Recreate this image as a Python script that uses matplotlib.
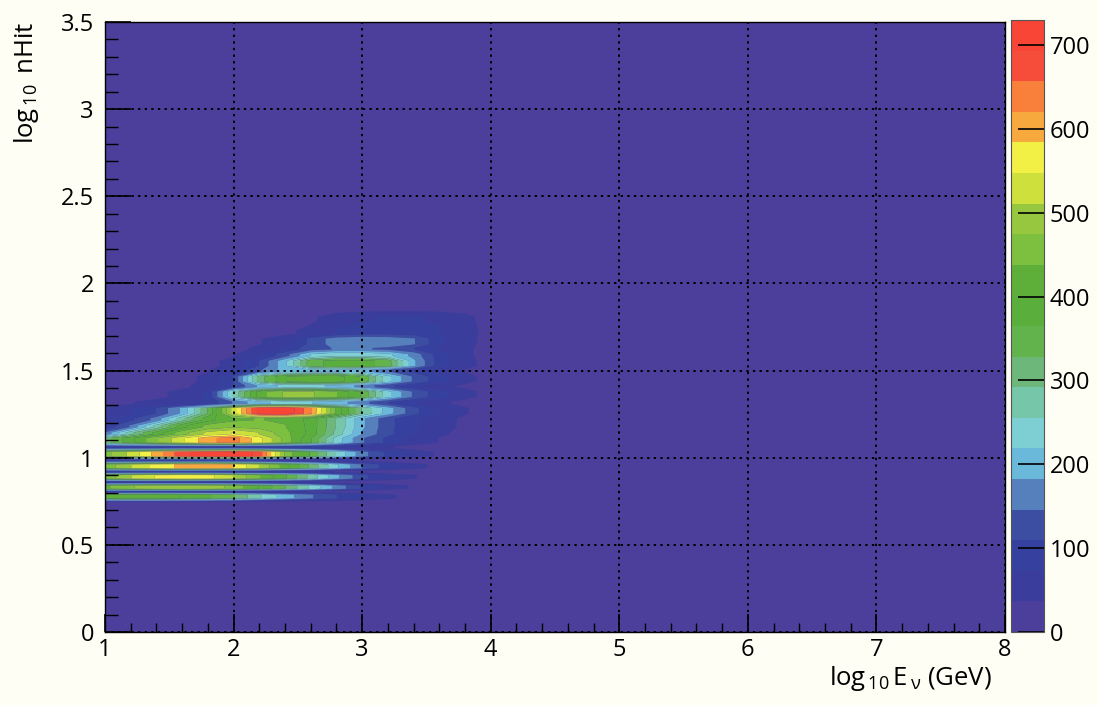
import numpy as np
import matplotlib
matplotlib.use("Agg")
import matplotlib.pyplot as plt
from matplotlib.ticker import MultipleLocator

FONT = "Open Sans"
plt.rcParams['font.family'] = [FONT, 'DejaVu Sans']
plt.rcParams['mathtext.fontset'] = 'custom'
plt.rcParams['mathtext.rm'] = FONT
plt.rcParams['mathtext.it'] = FONT + ':italic'
plt.rcParams['mathtext.default'] = 'rm'

# ---------------- data ----------------
x_centers = [1.0, 1.2, 1.4, 1.6, 1.8, 2.0, 2.2, 2.4, 2.6, 2.8, 3.0, 3.2, 3.4, 3.6, 3.8, 4.0, 4.2]

y_rows = [0.74, 0.78, 0.805, 0.83, 0.86, 0.89, 0.92, 0.95, 0.985, 1.02, 1.06,
          1.10, 1.14, 1.18, 1.22, 1.27, 1.315, 1.365, 1.41, 1.45, 1.50,
          1.54, 1.59, 1.625, 1.665, 1.72, 1.80, 1.88]

counts = [
    [0, 0, 0, 0, 0, 0, 0, 0, 0, 0, 0, 0, 0, 0, 0, 0, 0],                          # 0.74
    [400, 420, 420, 400, 370, 330, 260, 200, 150, 110, 75, 45, 20, 0, 0, 0, 0],   # 0.78
    [80, 80, 80, 75, 70, 65, 55, 45, 35, 25, 15, 0, 0, 0, 0, 0, 0],               # 0.805
    [430, 470, 500, 510, 500, 460, 400, 330, 250, 170, 105, 60, 30, 10, 0, 0, 0], # 0.83
    [80, 80, 80, 80, 75, 70, 60, 50, 40, 30, 20, 10, 0, 0, 0, 0, 0],              # 0.86
    [450, 510, 550, 570, 560, 510, 440, 370, 280, 190, 120, 70, 40, 15, 0, 0, 0], # 0.89
    [80, 85, 85, 85, 80, 75, 65, 55, 45, 35, 25, 15, 0, 0, 0, 0, 0],              # 0.92
    [450, 510, 560, 595, 610, 585, 510, 420, 320, 225, 145, 90, 50, 25, 0, 0, 0], # 0.95
    [90, 90, 90, 90, 90, 85, 75, 65, 55, 45, 35, 20, 10, 0, 0, 0, 0],             # 0.985
    [460, 520, 600, 680, 720, 730, 680, 470, 360, 250, 160, 100, 60, 30, 10, 0, 0],  # 1.02
    [100, 100, 100, 100, 100, 100, 95, 90, 80, 70, 55, 40, 25, 10, 0, 0, 0],      # 1.06
    [310, 390, 470, 540, 610, 640, 560, 460, 370, 240, 150, 100, 60, 35, 15, 0, 0],  # 1.10
    [150, 280, 380, 460, 520, 550, 510, 450, 390, 280, 180, 120, 75, 45, 25, 0, 0],  # 1.14
    [80, 150, 270, 390, 450, 470, 460, 440, 390, 290, 190, 120, 80, 50, 30, 10, 0],  # 1.18
    [60, 100, 160, 280, 390, 430, 440, 430, 390, 290, 190, 120, 80, 50, 30, 10, 0],  # 1.22
    [45, 70, 110, 190, 330, 530, 710, 730, 630, 430, 290, 200, 120, 70, 40, 15, 0],  # 1.27
    [25, 35, 45, 60, 80, 150, 210, 230, 220, 200, 160, 110, 75, 45, 25, 10, 0],      # 1.315
    [10, 20, 30, 45, 80, 260, 420, 480, 480, 440, 360, 230, 140, 85, 50, 20, 0],     # 1.365
    [0, 10, 20, 30, 50, 110, 190, 230, 230, 210, 170, 120, 80, 50, 30, 10, 0],       # 1.41
    [0, 0, 10, 25, 45, 110, 310, 400, 420, 420, 360, 230, 140, 85, 50, 20, 0],       # 1.45
    [0, 0, 0, 15, 35, 70, 140, 200, 215, 215, 195, 150, 100, 60, 35, 10, 0],         # 1.50
    [0, 0, 0, 10, 25, 50, 110, 210, 350, 380, 380, 350, 190, 90, 50, 20, 0],         # 1.54
    [0, 0, 0, 0, 15, 35, 70, 130, 220, 250, 250, 230, 170, 90, 45, 20, 0],           # 1.59
    [0, 0, 0, 0, 10, 25, 45, 80, 130, 150, 150, 140, 110, 70, 45, 20, 0],            # 1.625
    [0, 0, 0, 0, 0, 15, 35, 50, 120, 165, 175, 170, 150, 80, 50, 20, 0],             # 1.665
    [0, 0, 0, 0, 0, 0, 15, 30, 45, 75, 90, 90, 85, 75, 55, 20, 0],                   # 1.72
    [0, 0, 0, 0, 0, 0, 0, 10, 30, 55, 70, 75, 75, 70, 50, 15, 0],                    # 1.80
    [0, 0, 0, 0, 0, 0, 0, 0, 0, 0, 0, 0, 0, 0, 0, 0, 0],                             # 1.88
]

z_max = 730
n_levels = 20
palette = ['#4b3f9b', '#3a3d9c', '#36409e', '#3b4ea2', '#5580bc', '#6ab9da',
           '#7ecfd3', '#76c6a9', '#6db77a', '#63b34d', '#5aae3c', '#5daf3a',
           '#7dbf3e', '#97c73f', '#cde03c', '#f2ef45', '#f8a93d', '#f8803a',
           '#f54d3a', '#f84535']

x_ticks = [1, 2, 3, 4, 5, 6, 7, 8]
y_ticks = [0, 0.5, 1, 1.5, 2, 2.5, 3, 3.5]
y_tick_labels = ['0', '0.5', '1', '1.5', '2', '2.5', '3', '3.5']
cbar_ticks = [0, 100, 200, 300, 400, 500, 600, 700]

# ---------------- grid: each row is a bin with a flat top ----------------
ya = np.array(y_rows)
za = np.array(counts, dtype=float)
means = za.mean(axis=1)
yy, zz = [], []
for i in range(len(ya)):
    dl = ya[i] - ya[i - 1] if i > 0 else 0.05
    du = ya[i + 1] - ya[i] if i < len(ya) - 1 else 0.05
    lo = means[i - 1] if i > 0 else 0
    hi = means[i + 1] if i < len(ya) - 1 else 0
    peak = means[i] >= max(lo, hi)
    frac = 0.33 if peak else 0.12
    yy += [ya[i] - frac * dl, ya[i] + frac * du]
    zz += [za[i], za[i]]
X, Y = np.meshgrid(np.array(x_centers), np.array(yy))
Z = np.array(zz)

# ---------------- figure ----------------
BG = '#fefef4'
fig = plt.figure(figsize=(10.98, 7.05), dpi=100, facecolor=BG)
W, H = 1098, 705
ax = fig.add_axes([105 / W, 1 - 632 / H, 900 / W, 610 / H])
ax.set_facecolor(palette[0])

levels = np.linspace(0, z_max, n_levels + 1)
cf = ax.contourf(X, Y, Z, levels=levels, colors=palette, antialiased=True)

ax.set_xlim(1, 8)
ax.set_ylim(0, 3.5)
ax.set_xticks(x_ticks)
ax.set_yticks(y_ticks)
ax.set_yticklabels(y_tick_labels)
ax.xaxis.set_minor_locator(MultipleLocator(0.2))
ax.yaxis.set_minor_locator(MultipleLocator(0.1))
ax.tick_params(axis='x', which='major', direction='in', length=13, width=1.2,
               labelsize=17, pad=4, colors='black', top=False)
ax.tick_params(axis='x', which='minor', direction='in', length=6.5, width=1.0, top=False)
ax.tick_params(axis='y', which='major', direction='in', length=19, width=1.2,
               labelsize=17, pad=8, right=False)
ax.tick_params(axis='y', which='minor', direction='in', length=9.5, width=1.0, right=False)

ax.grid(True, which='major', color='black', linestyle=(0, (1.2, 2.2)), linewidth=1.4)
ax.set_axisbelow(False)
for s in ax.spines.values():
    s.set_linewidth(1.0)
    s.set_color('black')
    s.set_zorder(5)

ax.set_ylabel(r'log$_{\,10}\,$ nHit', fontsize=18.5, loc='top')
ax.yaxis.set_label_coords(-0.071, 1.0)
ax.set_xlabel(r'log$_{\,10}\,$E$_{\,\nu}$ (GeV)', fontsize=18.5, loc='right')
ax.xaxis.set_label_coords(0.9856, -0.052)

# ---------------- colorbar ----------------
cax = fig.add_axes([1011 / W, 1 - 632 / H, 33 / W, 612 / H])
cb = fig.colorbar(cf, cax=cax, ticks=cbar_ticks)
cb.outline.set_linewidth(0.8)
cb.outline.set_edgecolor('#555555')
cax.tick_params(direction='in', length=19, width=1.2, labelsize=17, pad=4,
                colors='black')
cax.yaxis.set_ticks_position('right')
cax.minorticks_off()

fig.savefig('out.png', dpi=100, facecolor=BG)
